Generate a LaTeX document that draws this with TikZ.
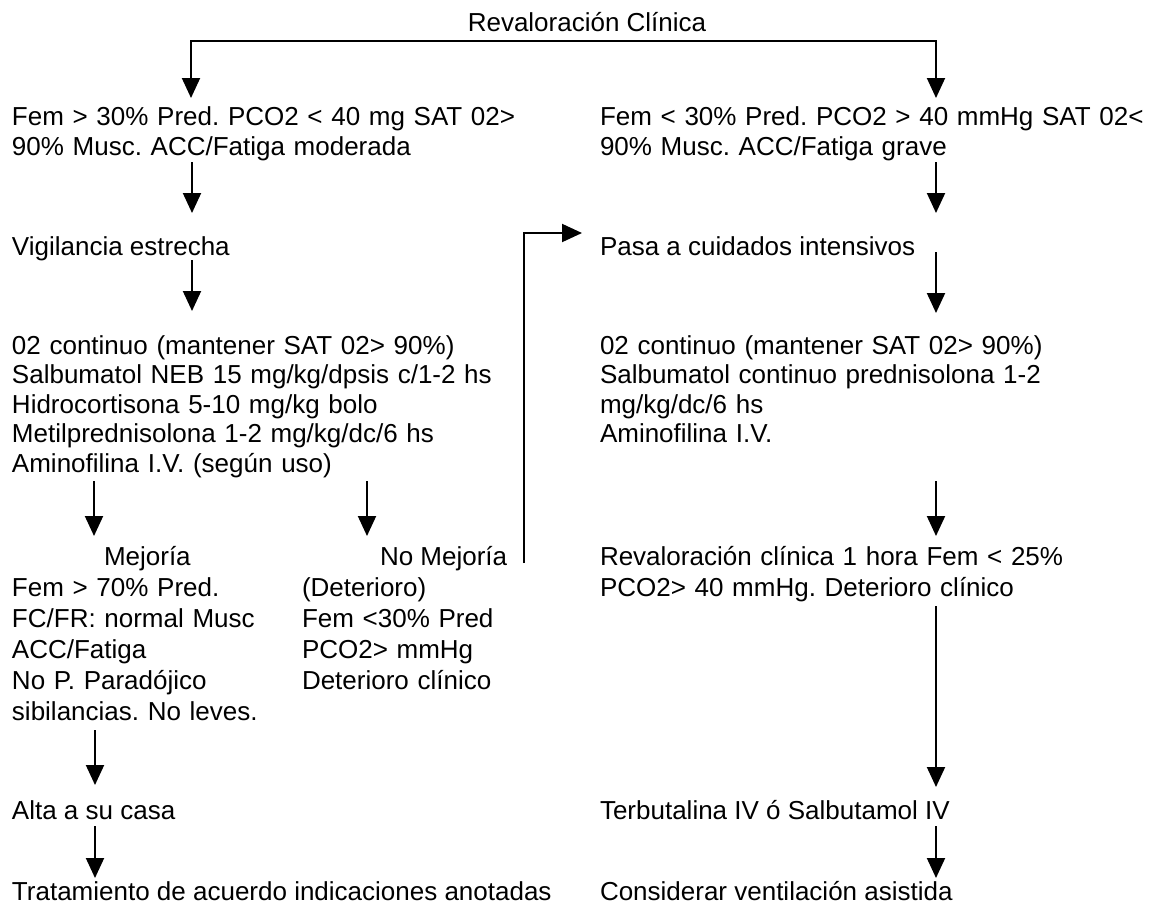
\documentclass[tikz,border=0pt]{standalone}
\usepackage{fontspec}
\setmainfont{Liberation Sans}
\usetikzlibrary{arrows.meta,calc}
\frenchspacing
\begin{document}
\begin{tikzpicture}[x=1pt,y=-1pt,
  txt/.style={inner sep=0pt,outer sep=0pt,font=\fontsize{26}{30}\selectfont,anchor=base west},
  blk/.style={txt,text width=560pt,align=left},
  blkA/.style={blk,font=\fontsize{26}{29.5}\selectfont},
  blkB/.style={blk,font=\fontsize{26}{31}\selectfont},
  arr/.style={line width=2pt,-{Triangle[width=18pt,length=20pt]}},
]
\fill[white] (0,0) rectangle (1160,910);
\useasboundingbox (0,0) rectangle (1160,910);

% columns used by the vertical connectors
\coordinate (cA) at (191,0);
\coordinate (cB) at (192,0);
\coordinate (cR) at (936,0);
\coordinate (cM) at (94,0);
\coordinate (cN) at (367,0);
\coordinate (cL) at (95,0);

% title
\node[txt,anchor=base] (title) at (587,31) {Revaloración Clínica};

% first level
\node[blk] (L1) at (12,125) {Fem > 30\% Pred. PCO2 < 40 mg SAT 02>\\90\% Musc. ACC/Fatiga moderada};
\node[blk] (R1) at (600,125) {Fem < 30\% Pred. PCO2 > 40 mmHg SAT 02<\\90\% Musc. ACC/Fatiga grave};

% second level
\node[txt] (vig) at (12,255) {Vigilancia estrecha};
\node[txt] (pasa) at (600,255) {Pasa a cuidados intensivos};

% treatment blocks
\node[blkA] (L3) at (12,354) {02 continuo (mantener SAT 02> 90\%)\\Salbumatol NEB 15 mg/kg/dpsis c/1-2 hs\\Hidrocortisona 5-10 mg/kg bolo\\Metilprednisolona 1-2 mg/kg/dc/6 hs\\Aminofilina I.V. (según uso)};
\node[blkA] (R3) at (600,354) {02 continuo (mantener SAT 02> 90\%)\\Salbumatol continuo prednisolona 1-2\\mg/kg/dc/6 hs\\Aminofilina I.V.};

% outcome after treatment
\node[txt] (mej) at (104,565) {Mejoría};
\node[txt] (nomej) at (380,565) {No Mejoría};
\node[blkB] (LL) at (12,596) {Fem > 70\% Pred.\\FC/FR: normal Musc\\ACC/Fatiga\\No P. Paradójico\\sibilancias. No leves.};
\node[blkB] (LR) at (302,596) {(Deterioro)\\Fem <30\% Pred\\PCO2> mmHg\\Deterioro clínico};
\node[blkB] (R4) at (600,565) {Revaloración clínica 1 hora Fem < 25\%\\PCO2> 40 mmHg. Deterioro clínico};

% final steps
\node[txt] (alta) at (12,819) {Alta a su casa};
\node[txt] (terb) at (600,819) {Terbutalina IV ó Salbutamol IV};
\node[txt] (trat) at (12,900) {Tratamiento de acuerdo indicaciones anotadas};
\node[txt] (cons) at (600,900) {Considerar ventilación asistida};

% split below the title
\coordinate (split) at ($(title.base)+(0,10)$);
\draw[arr] (split) -| ($(L1.base -| cA)+(0,-27)$);
\draw[arr] (split) -| ($(R1.base -| cR)+(0,-27)$);

% left branch
\draw[arr] ($(L1.base -| cB)+(0,37)$) -- ($(vig.base -| cB)+(0,-42)$);
\draw[arr] ($(vig.base -| cB)+(0,5)$) -- ($(L3.base -| cB)+(0,-43)$);
\draw[arr] ($(L3.base -| cM)+(0,127)$) -- ($(mej.base -| cM)+(0,-29)$);
\draw[arr] ($(L3.base -| cN)+(0,127)$) -- ($(nomej.base -| cN)+(0,-29)$);
\draw[arr] ($(LL.base -| cL)+(0,134)$) -- ($(alta.base -| cL)+(0,-34)$);
\draw[arr] ($(alta.base -| cL)+(0,7)$) -- ($(trat.base -| cL)+(0,-22)$);

% no improvement goes to intensive care
\draw[arr] ($(nomej.base east)+(17,-2)$) |- ($(pasa.base west)+(-18,-22)$);

% right branch
\draw[arr] ($(R1.base -| cR)+(0,37)$) -- ($(pasa.base -| cR)+(0,-42)$);
\draw[arr] ($(pasa.base -| cR)+(0,-3)$) -- ($(R3.base -| cR)+(0,-41)$);
\draw[arr] ($(R3.base -| cR)+(0,127)$) -- ($(R4.base -| cR)+(0,-29)$);
\draw[arr] ($(R4.base -| cR)+(0,41)$) -- ($(terb.base -| cR)+(0,-32)$);
\draw[arr] ($(terb.base -| cR)+(0,7)$) -- ($(cons.base -| cR)+(0,-22)$);
\end{tikzpicture}
\end{document}
